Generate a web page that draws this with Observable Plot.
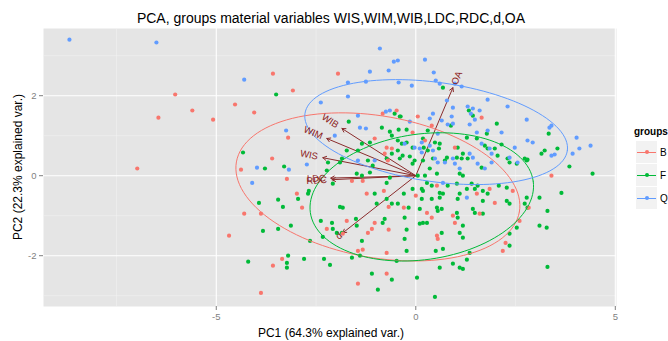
<!DOCTYPE html>
<html><head><meta charset="utf-8">
<script src="https://cdn.jsdelivr.net/npm/d3@7"></script>
<script src="https://cdn.jsdelivr.net/npm/@observablehq/plot@0.6"></script>
<style>
body{margin:0;background:#fff;font-family:"Liberation Sans",Arial,sans-serif;}
#wrap{position:relative;width:668px;height:341px;overflow:hidden;}
#wrap svg{position:absolute;left:0;top:0;}
.ov{position:absolute;white-space:nowrap;color:#000;}
#title{left:331px;top:18px;transform:translate(-50%,-50%);font-size:14px;}
#xt{left:331px;top:333px;transform:translate(-50%,-50%);font-size:12px;}
#yt{left:18px;top:167px;transform:translate(-50%,-50%) rotate(-90deg);font-size:12px;}
#lt{left:634px;top:131px;transform:translateY(-50%);font-size:10px;font-weight:bold;}
.key{position:absolute;width:21px;height:22px;background:#f2f2f2;left:636px;}
.key .ln{position:absolute;left:1px;right:1px;top:10.5px;height:1px;}
.key .dt{position:absolute;left:8.5px;top:9px;width:4px;height:4px;border-radius:50%;}
.kl{position:absolute;left:660px;font-size:10px;transform:translateY(-50%);}
</style></head><body>
<div id="wrap"></div>
<script>
const groupNames = ["B","F","Q"];
const groupColors = ["#F8766D","#00BA38","#619CFF"];

const pointsB = [[-3.58,2.55],[-6.03,2.03],[-5.60,1.63],[-6.45,1.45],[-5.08,1.40],[-4.53,1.78],[-4.05,1.58],[-3.60,0.43],[-6.98,0.18],[-3.08,2.13],
[-3.20,0.95],[-4.38,0.15],[-3.23,-0.08],[-4.30,-0.95],[-3.88,-0.95],[-2.98,-0.45],[-2.85,-0.80],[-4.68,-1.50],[-2.23,-1.33],[-1.83,-1.45],
[-1.73,-1.13],[-3.35,-2.08],[-3.58,-2.25],[-3.88,-2.93],[-1.45,-1.88],[-0.73,-2.45],[-1.45,-2.70],[-0.73,-1.93],[-0.68,-1.35],[-1.03,-1.18],
[-1.10,-1.33],[-1.20,-1.43],[-1.23,-0.45],[-0.80,-0.38],[-0.68,-0.78],[-0.30,-0.80],[-1.60,-0.13],[-1.33,-0.13],[-0.78,0.55],[-1.95,2.55],
[-1.03,0.93],[-0.48,1.63],[-0.83,1.55],[0.05,1.48],[-0.73,0.70],[-0.60,0.68],[-0.70,0.38],[-0.08,1.08],[0.40,1.25],[0.23,0.88],
[0.98,0.70],[1.65,1.45],[0.53,-0.25],[0.00,-0.50],[1.53,-0.45],[1.98,-0.68],[0.28,-0.93],[0.93,-1.00],[0.40,-1.05],[0.98,-1.18],
[0.53,-1.50],[0.55,-1.58],[-1.33,-1.85],[1.85,-0.33],[2.43,-0.38],[2.83,-0.80],[2.60,-1.13],[2.25,-1.68],[2.18,-1.88],[3.40,0.00],[1.60,-0.95]];

const pointsF = [[-3.50,2.03],[-4.33,0.58],[-3.78,0.18],[-3.30,0.23],[-3.93,-0.68],[-3.45,-0.60],[-3.33,-0.78],[-2.95,-0.58],[-2.70,-0.45],[-2.68,-0.38],
[-3.83,-1.38],[-3.45,-1.33],[-3.13,-1.25],[-2.65,-1.63],[-2.33,-1.53],[-2.38,-1.13],[-2.10,-1.18],[-2.08,-1.33],[-1.98,-1.43],[-1.85,-1.43],
[-1.90,-0.78],[-1.83,-0.80],[-1.50,-1.08],[-1.48,-1.25],[-3.20,-2.00],[-3.23,-2.18],[-3.23,-2.30],[-4.20,-2.15],[-2.80,-2.08],[-2.30,-2.08],
[-2.15,-2.23],[-1.60,-2.05],[-1.40,-2.00],[-1.10,-2.45],[-0.95,-2.85],[-0.60,-2.60],[-0.48,-2.13],[-0.23,-1.88],[-0.23,-1.35],[-0.28,-1.58],
[0.03,-2.55],[-0.83,-1.18],[-0.78,-1.08],[-1.35,-1.63],[-1.03,-0.45],[-0.98,-0.70],[-0.73,-0.58],[-0.60,-0.70],[-0.45,-0.70],[-0.18,-0.80],
[-0.30,-0.45],[-0.08,-0.33],[-0.73,-0.18],[-0.65,-0.05],[-1.48,0.05],[-1.35,0.00],[-2.08,-0.20],[-2.20,0.33],[-1.90,0.33],[-1.45,0.63],
[-1.15,0.08],[-0.60,0.55],[-0.45,0.63],[-0.33,0.50],[-0.08,0.30],[-0.73,0.43],[-1.85,0.43],[-1.68,1.35],[-0.85,1.20],[-0.53,1.55],
[-0.38,1.48],[-0.65,1.10],[-0.43,1.15],[-0.23,1.15],[-1.15,0.83],[-1.35,0.80],[-0.60,1.00],[-0.45,0.88],[-0.23,0.83],[-0.08,0.70],
[-0.03,0.38],[-1.20,0.38],[-1.08,0.25],[-2.23,0.13],[-1.73,0.63],[0.20,0.70],[0.30,0.63],[0.60,0.80],[0.43,0.43],[0.73,0.38],
[1.03,0.45],[1.18,0.55],[1.33,1.63],[1.43,1.50],[0.18,0.93],[0.30,1.13],[0.68,2.20],[3.33,1.05],[3.55,0.68],[3.23,0.63],
[3.15,0.55],[3.85,0.23],[2.03,1.30],[1.78,1.05],[0.88,1.25],[1.28,0.95],[1.53,0.93],[1.73,0.75],[1.80,0.68],[1.98,0.68],
[1.05,0.70],[1.15,0.43],[1.30,0.43],[0.78,0.45],[0.58,0.68],[0.48,0.83],[0.18,0.38],[-0.15,0.48],[-0.40,0.43],[1.65,0.20],
[2.30,0.43],[2.35,0.33],[2.53,0.30],[2.73,0.43],[2.80,0.40],[2.15,0.78],[2.05,0.50],[-0.35,0.80],[-0.40,1.48],[4.43,0.05],
[3.65,-0.43],[3.10,-0.55],[3.30,-0.88],[3.10,-1.25],[3.28,-1.30],[2.80,-0.80],[2.73,-0.70],[2.78,-0.55],[2.53,-1.30],[2.35,-1.45],
[2.35,-1.75],[3.30,-2.28],[2.28,-0.63],[2.35,-0.70],[2.28,-0.30],[2.08,-0.25],[1.68,-0.95],[2.78,0.38],[0.35,0.18],[0.53,0.05],
[0.23,0.00],[0.05,0.00],[1.10,0.05],[1.18,0.00],[0.28,-0.18],[0.40,-0.25],[0.15,-0.33],[0.18,-0.38],[0.60,-0.43],[0.68,-0.45],
[0.60,-0.55],[0.15,-0.58],[0.40,-0.58],[0.80,-0.25],[1.03,-0.20],[1.10,-0.45],[1.05,-0.58],[1.28,-0.33],[1.40,-0.20],[1.48,-0.33],
[1.55,-0.25],[1.68,-0.38],[1.80,-0.45],[1.68,-0.63],[0.10,-0.83],[0.53,-0.80],[0.55,-0.88],[0.65,-0.83],[1.03,-0.93],[1.43,-0.83],
[1.48,-0.93],[-0.28,-1.05],[0.18,-1.18],[0.10,-1.20],[0.28,-1.18],[1.18,-1.25],[0.65,-1.43],[1.10,-1.43],[1.18,-1.55],[0.68,-1.83],
[0.50,-1.88],[1.35,-1.93],[0.93,-2.20],[1.28,-2.10],[0.60,-2.30],[1.10,-2.30],[1.18,-2.33],[0.48,-3.03],[1.05,-1.05]];

const pointsQ = [[-8.68,3.40],[-6.50,3.33],[-4.30,2.40],[-3.98,0.20],[-3.25,1.13],[-3.18,0.15],[-4.10,-0.18],[-2.73,0.28],[-2.03,1.00],[-2.38,1.83],
[-1.70,1.98],[-1.70,2.33],[-1.25,2.35],[-1.15,2.60],[-0.68,2.63],[-0.90,3.18],[-0.55,2.85],[-0.45,2.88],[-0.43,2.33],[-0.10,2.25],
[-1.45,1.50],[-1.40,1.20],[-1.25,1.18],[-0.75,1.60],[-0.65,1.63],[-0.15,1.35],[-1.03,0.38],[-1.45,0.38],[0.23,2.90],[0.45,2.58],
[0.50,2.38],[0.60,2.30],[1.15,2.23],[0.98,2.30],[0.78,1.88],[1.80,1.90],[2.30,1.73],[2.78,1.40],[3.40,1.25],[3.35,1.20],
[4.03,0.95],[4.38,0.75],[4.10,0.68],[3.93,0.55],[3.40,0.50],[3.48,0.53],[2.80,0.88],[2.93,0.83],[1.30,1.73],[1.60,1.63],
[0.93,1.70],[1.48,1.40],[1.35,1.28],[0.90,1.48],[0.93,1.30],[1.80,1.13],[2.15,1.08],[1.53,1.08],[0.43,1.55],[0.80,1.28],
[0.55,1.05],[1.65,0.80],[1.35,0.55],[1.43,0.45],[0.93,0.43],[0.98,0.30],[0.43,0.63],[0.35,0.75],[0.15,0.83],[0.48,0.43],
[0.15,0.58],[1.90,0.33],[2.35,0.45],[2.55,0.33],[1.85,0.68],[1.90,0.55],[2.48,0.70],[-0.28,0.80],[-0.03,0.70],[0.35,1.43],
[0.65,1.38],[1.38,1.55],[1.43,1.68],[0.10,0.68],[0.55,0.33],[0.73,0.33],[1.10,0.18],[1.55,0.30],[1.73,0.18],[0.68,-0.18],[1.28,-0.55]];

const varNames = ["WIS","WIM","WIB","LDC","RDC","d","OA"];
const varX = [-2.33,-2.23,-1.85,-2.13,-2.10,-1.83,0.93];
const varY = [0.45,0.93,1.18,-0.06,-0.10,-1.43,2.20];

const ellCx = [-0.95,0.15,0.51];
const ellCy = [-0.28,-0.53,1.09];
const ellA = [3.60,2.82,3.32];
const ellB = [1.77,1.57,1.24];
const ellAngle = [-10,8,-8];

const xMajor = [-5,0,5], xMinor = [-7.5,-2.5,2.5];
const yMajor = [-2,0,2], yMinor = [-3,-1,1,3];
const xDomain = [-9.33,5.03], yDomain = [-3.27,3.68];

const titleText = "PCA, groups material variables WIS,WIM,WIB,LDC,RDC,d,OA";
const xTitle = "PC1 (64.3% explained var.)";
const yTitle = "PC2 (22.3% explained var.)";
const legendTitle = "groups";

const byGroup = {B: pointsB, F: pointsF, Q: pointsQ};
const points = ["F","B","Q"].flatMap(g => byGroup[g].map(p => ({x:p[0], y:p[1], g})));

const ellipse = [];
groupNames.forEach((g,i) => {
  const t = ellAngle[i]*Math.PI/180;
  for (let k = 0; k <= 120; k++) {
    const a = 2*Math.PI*k/120, u = ellA[i]*Math.cos(a), v = ellB[i]*Math.sin(a);
    ellipse.push({g, x: ellCx[i] + u*Math.cos(t) - v*Math.sin(t), y: ellCy[i] + u*Math.sin(t) + v*Math.cos(t)});
  }
});

const loadings = varNames.map((n,i) => {
  const x = varX[i], y = varY[i], len = Math.hypot(x,y), gap = 0.035*n.length + 0.02;
  return {name:n, x, y, lx: x + x/len*gap, ly: y + y/len*gap, rot: -Math.atan(y/x)*180/Math.PI};
});

const chart = Plot.plot({
  width: 668, height: 341,
  marginLeft: 43, marginRight: 52, marginTop: 28, marginBottom: 35,
  x: {domain: xDomain},
  y: {domain: yDomain},
  color: {domain: groupNames, range: groupColors},
  style: {fontFamily: "'Liberation Sans', Arial, sans-serif", background: "transparent"},
  marks: [
    Plot.frame({fill: "#e5e5e5", stroke: "none"}),
    Plot.ruleX(xMinor, {stroke: "#f2f2f2", strokeWidth: 0.6}),
    Plot.ruleY(yMinor, {stroke: "#f2f2f2", strokeWidth: 0.6}),
    Plot.ruleX(xMajor, {stroke: "#ffffff", strokeWidth: 1.1}),
    Plot.ruleY(yMajor, {stroke: "#ffffff", strokeWidth: 1.1}),
    Plot.axisX(xMajor, {tickSize: 4, tickPadding: 3, fontSize: 9.5, color: "#7f7f7f", label: null, tickFormat: d => String(d)}),
    Plot.axisY(yMajor, {tickSize: 4, tickPadding: 3, fontSize: 9.5, color: "#7f7f7f", label: null, tickFormat: d => String(d)}),
    Plot.arrow(loadings, {x1: d => 0, y1: d => 0, x2: "x", y2: "y", stroke: "#8a2c2c", strokeWidth: 1, headLength: 6}),
    Plot.dot(points, {x: "x", y: "y", fill: "g", r: 2.1}),
    Plot.line(ellipse, {x: "x", y: "y", z: "g", stroke: "g", strokeWidth: 1}),
    Plot.text(loadings.filter(d => d.x < 0), {x: "lx", y: "ly", text: "name", rotate: "rot", textAnchor: "end", fill: "#8b1a1a", fontSize: 9.5}),
    Plot.text(loadings.filter(d => d.x >= 0), {x: "lx", y: "ly", text: "name", rotate: "rot", textAnchor: "start", fill: "#8b1a1a", fontSize: 9.5})
  ]
});

const wrap = document.getElementById("wrap");
wrap.appendChild(chart);
function addDiv(id, cls, text, style) {
  const d = document.createElement("div");
  if (id) d.id = id;
  d.className = cls;
  if (text != null) d.textContent = text;
  if (style) Object.assign(d.style, style);
  wrap.appendChild(d);
  return d;
}
addDiv("title", "ov", titleText);
addDiv("xt", "ov", xTitle);
addDiv("yt", "ov", yTitle);
addDiv("lt", "ov", legendTitle);
groupNames.forEach((g,i) => {
  const cy = 152 + i*23;
  const k = addDiv(null, "key", null, {top: (cy-11) + "px"});
  const ln = document.createElement("div"); ln.className = "ln"; ln.style.background = groupColors[i]; k.appendChild(ln);
  const dt = document.createElement("div"); dt.className = "dt"; dt.style.background = groupColors[i]; k.appendChild(dt);
  addDiv(null, "kl ov", g, {top: cy + "px"});
});
</script>
</body></html>
